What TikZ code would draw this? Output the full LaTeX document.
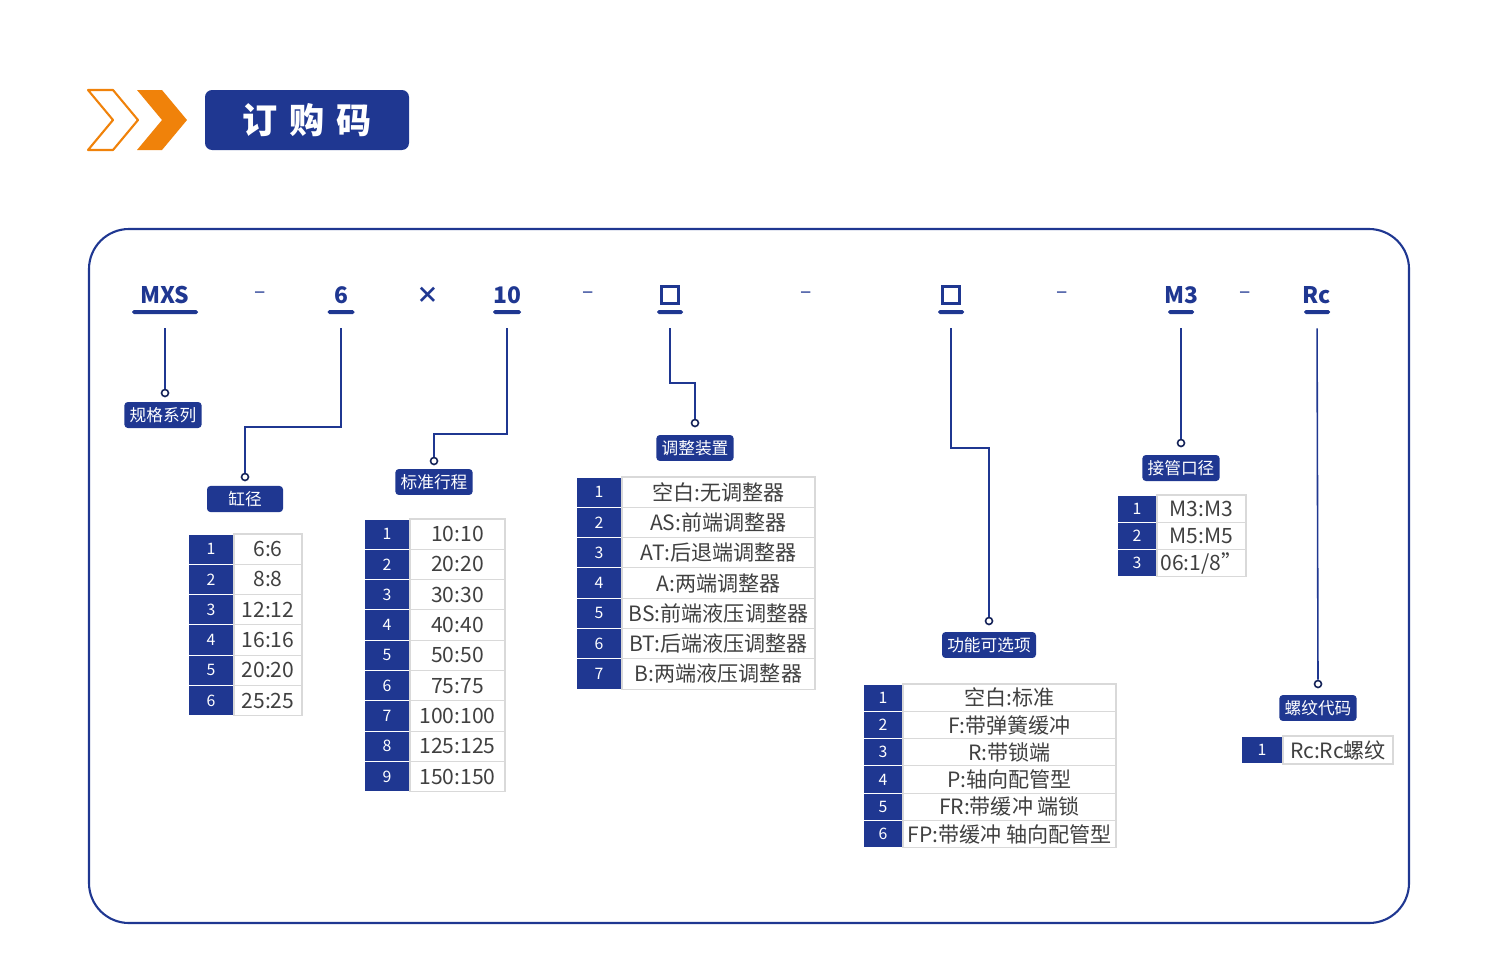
\documentclass[tikz,border=0pt]{standalone}
\usepackage{fontspec}
\setmainfont{Noto Sans CJK SC}
\usetikzlibrary{positioning}
\definecolor{navy}{RGB}{31,55,145}
\definecolor{amber}{RGB}{240,130,10}
\def\px{0.02cm}
\tikzset{
  code/.style={text=navy, font=\bfseries\fontsize{13}{13}\selectfont, inner sep=0pt},
  blank/.style={draw=navy, line width=1.3pt, minimum size=17*\px, inner sep=0pt},
  uline/.style={fill=navy, rounded corners=1pt, inner sep=0pt, minimum height=4*\px},
  ring/.style={circle, draw=navy!60!black, line width=0.9pt, minimum size=7*\px, inner sep=0pt},
  tag/.style={fill=navy, rounded corners=2pt, text=white, font=\fontsize{9.5}{9.5}\selectfont, minimum height=25*\px, inner sep=3pt},
  link/.style={draw=navy, line width=0.9pt, shorten <=0.28cm},
  numcell/.style={fill=navy, draw=white, line width=0.6pt, text=white, font=\fontsize{9}{9}\selectfont, inner sep=0pt, outer sep=0pt},
  txtcell/.style={draw=gray!30, line width=0.6pt, text=black!75, font=\fontsize{12}{12}\selectfont, inner sep=0pt, outer sep=0pt}
}
% name, x, ytop, numw, right edge, rowh, entries
\newcommand\codetable[7]{%
  \foreach \t [count=\i] in {#7}{
    \node[numcell, minimum width=#4*\px, minimum height=#6*\px] (#1-n\i) at ({#2+#4/2},{#3+(\i-0.5)*#6}) {\i};
    \node[txtcell, minimum width=(#5-#2-#4)*\px, minimum height=#6*\px, right=0pt of #1-n\i] (#1-t\i) {\t};
  }}

\begin{document}
\begin{tikzpicture}[x=0.02cm, y=-0.02cm]
\useasboundingbox (0,0) rectangle (1500,974);

% heading
\draw[amber, line width=1.2pt, line join=round] (88,90) -- (113,90) -- (138,120) -- (113,150) -- (88,150) -- (113,120) -- cycle;
\fill[amber] (137,90) -- (162,90) -- (187,120) -- (162,150) -- (137,150) -- (162,120) -- cycle;
\node[fill=navy, rounded corners=4pt, text=white, font=\bfseries\fontsize{20}{20}\selectfont, minimum width=204*\px, minimum height=60*\px] (title) at (307,120) {订\,\,购\,\,码};

% frame
\draw[navy, line width=1.2pt, rounded corners=0.8cm] (89,229) rectangle (1409,923);

% code line
\foreach \n/\x/\w/\s in {mxs/165/66/MXS, six/341/27/6, ten/507/28/10, port/1181/26/M3, thread/1317/26/Rc}{
  \node[code] (c-\n) at (\x,295) {\s};
  \node[uline, minimum width=\w*\px] (u-\n) at (\x,312) {};
}
\foreach \n/\x in {adj/670, opt/951}{
  \node[blank] (c-\n) at (\x,295) {};
  \node[uline, minimum width=26*\px] (u-\n) at (\x,312) {};
}
\foreach \x [count=\k] in {260,588,806,1062,1245}
  \node[code, font=\fontsize{12}{12}\selectfont] (dash-\k) at (\x,295) {–};
\node[code] (times) at (428,295) {×};

% rings and tags
\node[ring] (d-mxs) at (165,393) {};     \node[tag] (t-mxs) at (163,415) {规格系列};
\node[ring] (d-six) at (245,477) {};     \node[tag, minimum width=76*\px] (t-six) at (245,499) {缸径};
\node[ring] (d-ten) at (434,461) {};     \node[tag] (t-ten) at (434,482) {标准行程};
\node[ring] (d-adj) at (695,423) {};     \node[tag] (t-adj) at (695,448) {调整装置};
\node[ring] (d-opt) at (989,621) {};     \node[tag] (t-opt) at (989,645) {功能可选项};
\node[ring] (d-port) at (1181,443) {};   \node[tag] (t-port) at (1181,468) {接管口径};
\node[ring] (d-thread) at (1318,684) {}; \node[tag] (t-thread) at (1318,708) {螺纹代码};

\draw[link] (u-mxs) -- (d-mxs);
\draw[link] (u-six) -- ++(0,115) -| (d-six);
\draw[link] (u-ten) -- ++(0,122) -| (d-ten);
\draw[link] (u-adj) -- ++(0,71) -| (d-adj);
\draw[link] (u-opt) -- ++(0,136) -| (d-opt);
\draw[link] (u-port) -- (d-port);
\draw[link] (u-thread) -- (d-thread);

% tables
\codetable{bore}{188}{534}{46}{302}{30.3}{6:6,8:8,12:12,16:16,20:20,25:25}
\codetable{stroke}{364}{519}{46}{505}{30.3}{10:10,20:20,30:30,40:40,50:50,75:75,100:100,125:125,150:150}
\codetable{adjust}{576}{477}{46}{815}{30.3}{空白:无调整器,AS:前端调整器,AT:后退端调整器,A:两端调整器,BS:前端液压调整器,BT:后端液压调整器,B:两端液压调整器}
\codetable{option}{863}{684}{40}{1116}{27.3}{空白:标准,F:带弹簧缓冲,R:带锁端,P:轴向配管型,FR:带缓冲 端锁,FP:带缓冲 轴向配管型}
\codetable{port}{1117}{495}{40}{1246}{27.3}{M3:M3,M5:M5,06:1/8”}
\codetable{thread}{1241}{736}{42}{1393}{28}{Rc:Rc螺纹}
\end{tikzpicture}
\end{document}
